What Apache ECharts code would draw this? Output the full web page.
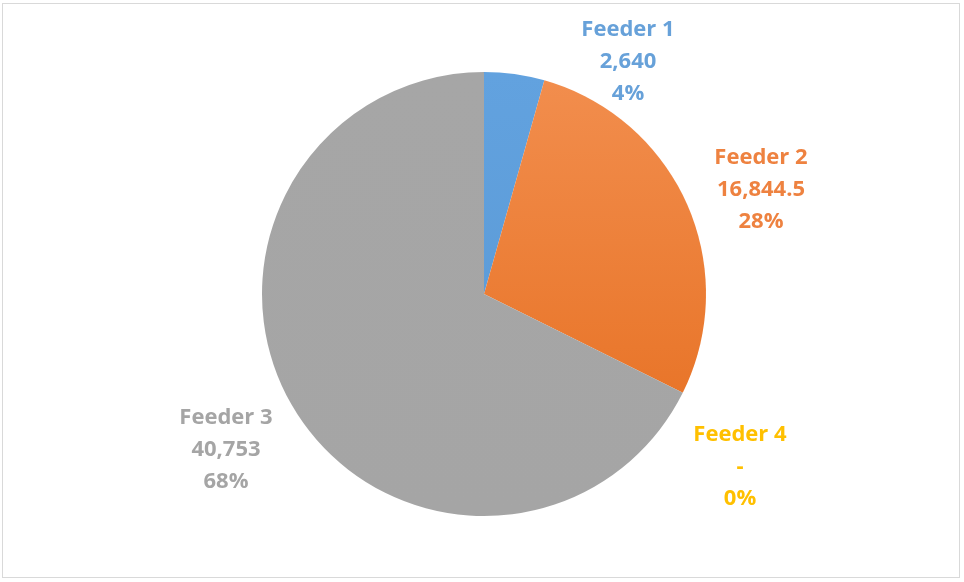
<!DOCTYPE html>
<html>
<head>
<meta charset="utf-8">
<script src="https://cdn.jsdelivr.net/npm/echarts@6/dist/echarts.min.js"></script>
<style>
html,body{margin:0;padding:0;background:#fff;}
#frame{position:absolute;left:2px;top:3px;width:958px;height:575px;border:1px solid #d9d9d9;box-sizing:border-box;}
#chart{width:964px;height:582px;position:absolute;left:0;top:0;}
</style>
</head>
<body>
<div id="frame"></div>
<div id="chart"></div>
<script>
var categories = ['Feeder 1', 'Feeder 2', 'Feeder 3', 'Feeder 4'];
var values = [2640, 16844.5, 40753, 0];

var colors = [
  ['#62A2DF', '#5897D3'],
  ['#F28E4E', '#E56C1C'],
  ['#A6A6A6', '#A5A5A5'],
  ['#FFC000', '#FFC000']
];
var labelColors = ['#67A1D9', '#EE8240', '#A5A5A5', '#FFC000'];
// label placement (pixel centres), layout only
var labelPos = [[628, 62], [761, 190], [226, 450], [740, 467]];

function fmt(v) {
  if (v === 0) return '-';
  return v.toLocaleString('en-US', {maximumFractionDigits: 2});
}

var chart = echarts.init(document.getElementById('chart'), null, {renderer: 'canvas'});
var data = categories.map(function (c, i) {
  return {
    name: c,
    value: values[i],
    itemStyle: {
      color: new echarts.graphic.LinearGradient(0, 72, 0, 516, [
        {offset: 0, color: colors[i][0]},
        {offset: 1, color: colors[i][1]}
      ], true)
    },
    label: {color: labelColors[i]}
  };
});

chart.setOption({
  animation: false,
  backgroundColor: 'transparent',
  series: [{
    type: 'pie',
    center: [484, 294],
    radius: 222,
    startAngle: 90,
    clockwise: true,
    avoidLabelOverlap: false,
    minShowLabelAngle: 0,
    data: data,
    label: {
      show: true,
      position: 'outside',
      fontFamily: '"Open Sans", Lato, sans-serif',
      fontWeight: 'bold',
      fontSize: 22,
      lineHeight: 32,
      align: 'center',
      formatter: function (p) {
        return p.name + '\n' + fmt(p.value) + '\n' + Math.round(p.percent) + '%';
      }
    },
    labelLine: {show: false},
    labelLayout: function (p) {
      var pos = labelPos[p.dataIndex];
      return {x: pos[0], y: pos[1], align: 'center', verticalAlign: 'middle'};
    },
    emphasis: {disabled: true}
  }]
});
</script>
</body>
</html>
